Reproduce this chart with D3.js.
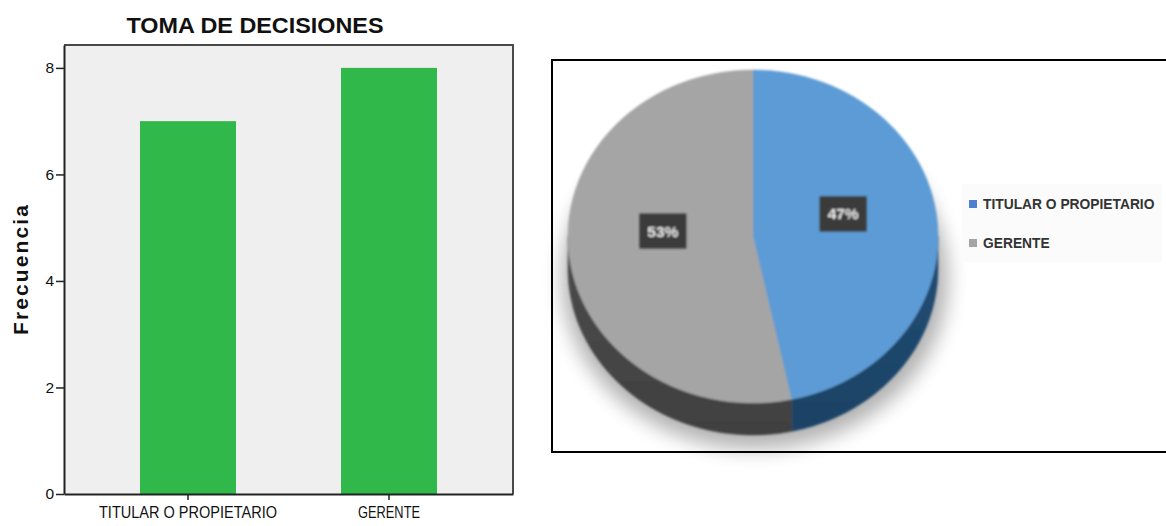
<!DOCTYPE html>
<html>
<head>
<meta charset="utf-8">
<script src="https://cdn.jsdelivr.net/npm/d3@7"></script>
<style>
  html, body { margin: 0; padding: 0; background: #ffffff; }
  svg { display: block; font-family: "Liberation Sans", Arial, sans-serif; }
</style>
</head>
<body>
<svg id="chart" width="1166" height="526"></svg>
<script>
// Who takes the decisions: counts per role
const categories = ["TITULAR O PROPIETARIO", "GERENTE"];
const frequencies = [7, 8];
const yTicks = [0, 2, 4, 6, 8];
const pieColors = ["#5b9bd5", "#a5a5a5"];
const pieSideColors = ["#1f466b", "#454545"];
const chartTitle = "TOMA DE DECISIONES";
const yAxisTitle = "Frecuencia";

const svg = d3.select("#chart");
const defs = svg.append("defs");

/* ---------- bar chart ---------- */
const plot = { left: 64, right: 513, top: 45, bottom: 494 };

const x = d3.scaleBand()
  .domain(categories)
  .range([plot.left, plot.right])
  .paddingInner(0.5224)
  .paddingOuter(0.378);

const y = d3.scaleLinear()
  .domain([0, 8.43])
  .range([plot.bottom, plot.top]);

svg.append("rect")
  .attr("x", plot.left).attr("y", plot.top)
  .attr("width", plot.right - plot.left)
  .attr("height", plot.bottom - plot.top)
  .attr("fill", "#efefef");

// frame top / right
svg.append("path")
  .attr("d", `M${plot.left},${plot.top}H${plot.right}V${plot.bottom}`)
  .attr("fill", "none").attr("stroke", "#4a4a4a").attr("stroke-width", 2);

svg.append("g").selectAll("rect")
  .data(categories.map((c, i) => ({ c, v: frequencies[i] })))
  .join("rect")
  .attr("x", d => x(d.c))
  .attr("y", d => y(d.v))
  .attr("width", x.bandwidth())
  .attr("height", d => y(0) - y(d.v))
  .attr("fill", "#30b84a");

const yAxis = svg.append("g")
  .attr("transform", `translate(${plot.left},0)`)
  .call(d3.axisLeft(y).tickValues(yTicks).tickSize(8).tickPadding(2).tickSizeOuter(0));
yAxis.select(".domain").attr("stroke", "#222").attr("stroke-width", 2);
yAxis.selectAll(".tick line").attr("stroke", "#222").attr("stroke-width", 1.5);
yAxis.selectAll(".tick text")
  .attr("fill", "#111").attr("font-size", 15.5)
  .attr("font-family", "Liberation Sans, Arial, sans-serif");

const xAxis = svg.append("g")
  .attr("transform", `translate(0,${plot.bottom})`)
  .call(d3.axisBottom(x).tickSize(6).tickPadding(10).tickSizeOuter(0));
xAxis.select(".domain").attr("stroke", "#222").attr("stroke-width", 2);
xAxis.selectAll(".tick line").attr("stroke", "#222").attr("stroke-width", 1.5);
xAxis.selectAll(".tick text")
  .attr("fill", "#111").attr("font-size", 17)
  .attr("font-family", "Liberation Sans, Arial, sans-serif")
  .attr("dy", "0.45em")
  .attr("textLength", d => d === categories[0] ? 178 : 62)
  .attr("lengthAdjust", "spacingAndGlyphs");

svg.append("text")
  .attr("x", 255).attr("y", 33)
  .attr("text-anchor", "middle")
  .attr("font-size", 22).attr("font-weight", "bold")
  .attr("textLength", 257).attr("lengthAdjust", "spacingAndGlyphs")
  .attr("fill", "#111")
  .text(chartTitle);

svg.append("text")
  .attr("transform", "translate(28,270) rotate(-90)")
  .attr("text-anchor", "middle")
  .attr("font-size", 21).attr("font-weight", "bold")
  .attr("textLength", 130).attr("lengthAdjust", "spacing")
  .attr("fill", "#111")
  .text(yAxisTitle);

/* ---------- 3D pie ---------- */
svg.append("rect")
  .attr("x", 552).attr("y", 60)
  .attr("width", 640).attr("height", 392)
  .attr("fill", "#ffffff")
  .attr("stroke", "#000").attr("stroke-width", 2);

const soft = defs.append("filter").attr("id", "soft")
  .attr("x", "-10%").attr("y", "-10%").attr("width", "120%").attr("height", "120%");
soft.append("feGaussianBlur").attr("stdDeviation", 0.8);

const shadowBlur = defs.append("filter").attr("id", "shadowBlur")
  .attr("x", "-30%").attr("y", "-30%").attr("width", "160%").attr("height", "160%");
shadowBlur.append("feGaussianBlur").attr("stdDeviation", 10);

const P = { cx: 753, cy: 236.5, rx: 185, ry: 166.5, depth: 32 };
const pt = (a, dy = 0) => [P.cx + P.rx * Math.sin(a), P.cy - P.ry * Math.cos(a) + dy];

const pie = d3.pie().sort(null).value(d => d)(frequencies);
const total = d3.sum(frequencies);

const pieG = svg.append("g");

// soft drop shadow under the disc
pieG.append("ellipse")
  .attr("cx", P.cx + 2).attr("cy", P.cy + P.depth + 10)
  .attr("rx", P.rx + 8).attr("ry", P.ry + 4)
  .attr("fill", "#000").attr("opacity", 0.3)
  .attr("filter", "url(#shadowBlur)");

const discG = pieG.append("g").attr("filter", "url(#soft)");

function arcPoints(a0, a1, dy, steps = 60) {
  const pts = [];
  for (let i = 0; i <= steps; i++) pts.push(pt(a0 + (a1 - a0) * i / steps, dy));
  return pts;
}

// side walls (only the front half, angles between PI/2 and 3PI/2)
pie.forEach((s, i) => {
  const a0 = Math.max(s.startAngle, Math.PI / 2);
  const a1 = Math.min(s.endAngle, 3 * Math.PI / 2);
  if (a1 <= a0) return;
  const top = arcPoints(a0, a1, 0);
  const bottom = arcPoints(a1, a0, P.depth);
  const gid = "side" + i;
  const g = defs.append("linearGradient").attr("id", gid)
    .attr("x1", 0).attr("y1", 0).attr("x2", 0).attr("y2", 1);
  const base = d3.color(pieSideColors[i]);
  g.append("stop").attr("offset", 0).attr("stop-color", base.brighter(0.25));
  g.append("stop").attr("offset", 1).attr("stop-color", base.darker(0.15));
  discG.append("path")
    .attr("d", "M" + top.concat(bottom).map(p => p.join(",")).join("L") + "Z")
    .attr("fill", `url(#${gid})`)
    .attr("stroke", pieSideColors[i]).attr("stroke-width", 0.5);
});

// top face slices
pie.forEach((s, i) => {
  const pts = arcPoints(s.startAngle, s.endAngle, 0);
  discG.append("path")
    .attr("d", `M${P.cx},${P.cy}L` + pts.map(p => p.join(",")).join("L") + "Z")
    .attr("fill", pieColors[i])
    .attr("stroke", pieColors[i]).attr("stroke-width", 0.5);
});

// percentage labels
const labelG = pieG.append("g").attr("filter", "url(#soft)");
pie.forEach((s, i) => {
  const mid = (s.startAngle + s.endAngle) / 2;
  const [lx, ly0] = [P.cx + P.rx * 0.49 * Math.sin(mid), P.cy - P.ry * 0.49 * Math.cos(mid)];
  const ly = ly0 - 14;
  const w = 47, h = 35;
  labelG.append("rect")
    .attr("x", lx - w / 2).attr("y", ly - h / 2)
    .attr("width", w).attr("height", h)
    .attr("fill", "#3a3a3a");
  labelG.append("text")
    .attr("x", lx).attr("y", ly + 5.5)
    .attr("text-anchor", "middle")
    .attr("font-size", 15.5).attr("font-weight", "bold")
    .attr("fill", "#ececec")
    .text(Math.round(s.value / total * 100) + "%");
});

// legend
const legG = svg.append("g");
legG.append("rect")
  .attr("x", 962).attr("y", 184).attr("width", 200).attr("height", 78)
  .attr("fill", "#fbfbfb");
const legendColors = ["#4f7fd0", "#a5a5a5"];
categories.forEach((c, i) => {
  const ly = 204 + i * 39;
  legG.append("rect")
    .attr("x", 969).attr("y", ly - 4).attr("width", 8).attr("height", 8)
    .attr("fill", legendColors[i]);
  legG.append("text")
    .attr("x", 983).attr("y", ly + 5)
    .attr("font-size", 13.8).attr("font-weight", "bold")
    .attr("fill", "#333")
    .text(c);
});
</script>
</body>
</html>
